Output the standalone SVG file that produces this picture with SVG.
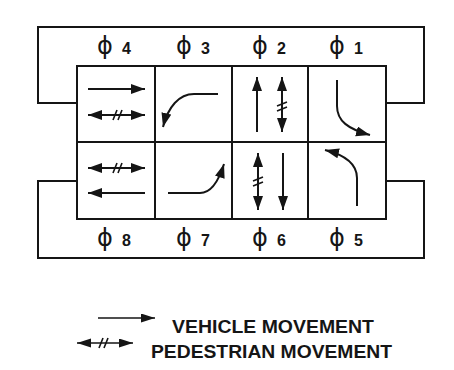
<svg xmlns="http://www.w3.org/2000/svg" width="454" height="370" viewBox="0 0 454 370">
<style>
.frame{fill:none;stroke:#151515;stroke-width:2}
.cell{fill:none;stroke:#151515;stroke-width:2}
.veh{fill:none;stroke:#151515;stroke-width:2;marker-end:url(#ah)}
.ped{fill:none;stroke:#151515;stroke-width:2;marker-end:url(#ah);marker-start:url(#ah)}
.hash{fill:none;stroke:#151515;stroke-width:1.6}
.phi{font-family:"DejaVu Sans",sans-serif;font-size:24px;fill:#151515}
.num{font-family:"Liberation Sans",Arial,sans-serif;font-weight:bold;font-size:16px;fill:#151515}
.leg{font-family:"Liberation Sans",Arial,sans-serif;font-weight:bold;font-size:18px;fill:#151515}
</style>
<defs>
<marker id="ah" markerUnits="userSpaceOnUse" markerWidth="16" markerHeight="12" refX="14" refY="5" orient="auto-start-reverse">
<path d="M0,0 L14,5 L0,10 z" fill="#151515"/>
</marker>
<marker id="ahs" markerUnits="userSpaceOnUse" markerWidth="16" markerHeight="10" refX="14" refY="4.5" orient="auto-start-reverse">
<path d="M0,0 L14,4.5 L0,9 z" fill="#151515"/>
</marker>
</defs>
<g id="connectors">
<path class="frame" d="M77,103 H38 V27 H424 V103 H386"/>
<path class="frame" d="M77,181 H38 V258 H424 V181 H386"/>
</g>
<g id="phase4">
<rect class="cell" x="77" y="66" width="78" height="76"/>
<path class="veh" d="M88,89 H145"/>
<path class="ped" d="M88,115 H145"/>
<path class="hash" d="M113,120 L117,110 M118,120 L122,110"/>
<text x="97" y="54"><tspan class="phi">ϕ</tspan><tspan class="num" x="122">4</tspan></text>
</g>
<g id="phase3">
<rect class="cell" x="155" y="66" width="77" height="76"/>
<path class="veh" d="M218,94 H194 C179,94 168,107 163,127"/>
<text x="176" y="54"><tspan class="phi">ϕ</tspan><tspan class="num" x="201">3</tspan></text>
</g>
<g id="phase2">
<rect class="cell" x="232" y="66" width="76" height="76"/>
<path class="veh" d="M257,132 V77"/>
<path class="ped" d="M282,132 V77"/>
<path class="hash" d="M277,106 L287,102 M277,111 L287,107"/>
<text x="252" y="54"><tspan class="phi">ϕ</tspan><tspan class="num" x="277">2</tspan></text>
</g>
<g id="phase1">
<rect class="cell" x="308" y="66" width="78" height="76"/>
<path class="veh" d="M337,80 V106 C337,121 348,129 370,135"/>
<text x="329" y="54"><tspan class="phi">ϕ</tspan><tspan class="num" x="354">1</tspan></text>
</g>
<g id="phase8">
<rect class="cell" x="77" y="142" width="78" height="77"/>
<path class="ped" d="M88,168 H145"/>
<path class="hash" d="M113,173 L117,163 M118,173 L122,163"/>
<path class="veh" d="M145,193 H88"/>
<text x="97" y="246"><tspan class="phi">ϕ</tspan><tspan class="num" x="122">8</tspan></text>
</g>
<g id="phase7">
<rect class="cell" x="155" y="142" width="77" height="77"/>
<path class="veh" d="M168,193 H200 C211,193 219,180 224,164"/>
<text x="176" y="246"><tspan class="phi">ϕ</tspan><tspan class="num" x="201">7</tspan></text>
</g>
<g id="phase6">
<rect class="cell" x="232" y="142" width="76" height="77"/>
<path class="ped" d="M258,153 V210"/>
<path class="hash" d="M253,181 L263,177 M253,186 L263,182"/>
<path class="veh" d="M283,153 V210"/>
<text x="252" y="246"><tspan class="phi">ϕ</tspan><tspan class="num" x="277">6</tspan></text>
</g>
<g id="phase5">
<rect class="cell" x="308" y="142" width="78" height="77"/>
<path class="veh" d="M357,206 V178 C357,164 345,155 325,150"/>
<text x="329" y="246"><tspan class="phi">ϕ</tspan><tspan class="num" x="354">5</tspan></text>
</g>
<g id="legend">
<path d="M98,318 H155" fill="none" stroke="#151515" stroke-width="1.6" marker-end="url(#ahs)"/>
<path d="M77,343 H133" fill="none" stroke="#151515" stroke-width="1.6" marker-end="url(#ahs)" marker-start="url(#ahs)"/>
<path class="hash" d="M99,348 L103,338 M104,348 L108,338"/>
<text class="leg" x="172" y="333" textLength="202" lengthAdjust="spacingAndGlyphs">VEHICLE MOVEMENT</text>
<text class="leg" x="151" y="358" textLength="241" lengthAdjust="spacingAndGlyphs">PEDESTRIAN MOVEMENT</text>
</g>
</svg>
